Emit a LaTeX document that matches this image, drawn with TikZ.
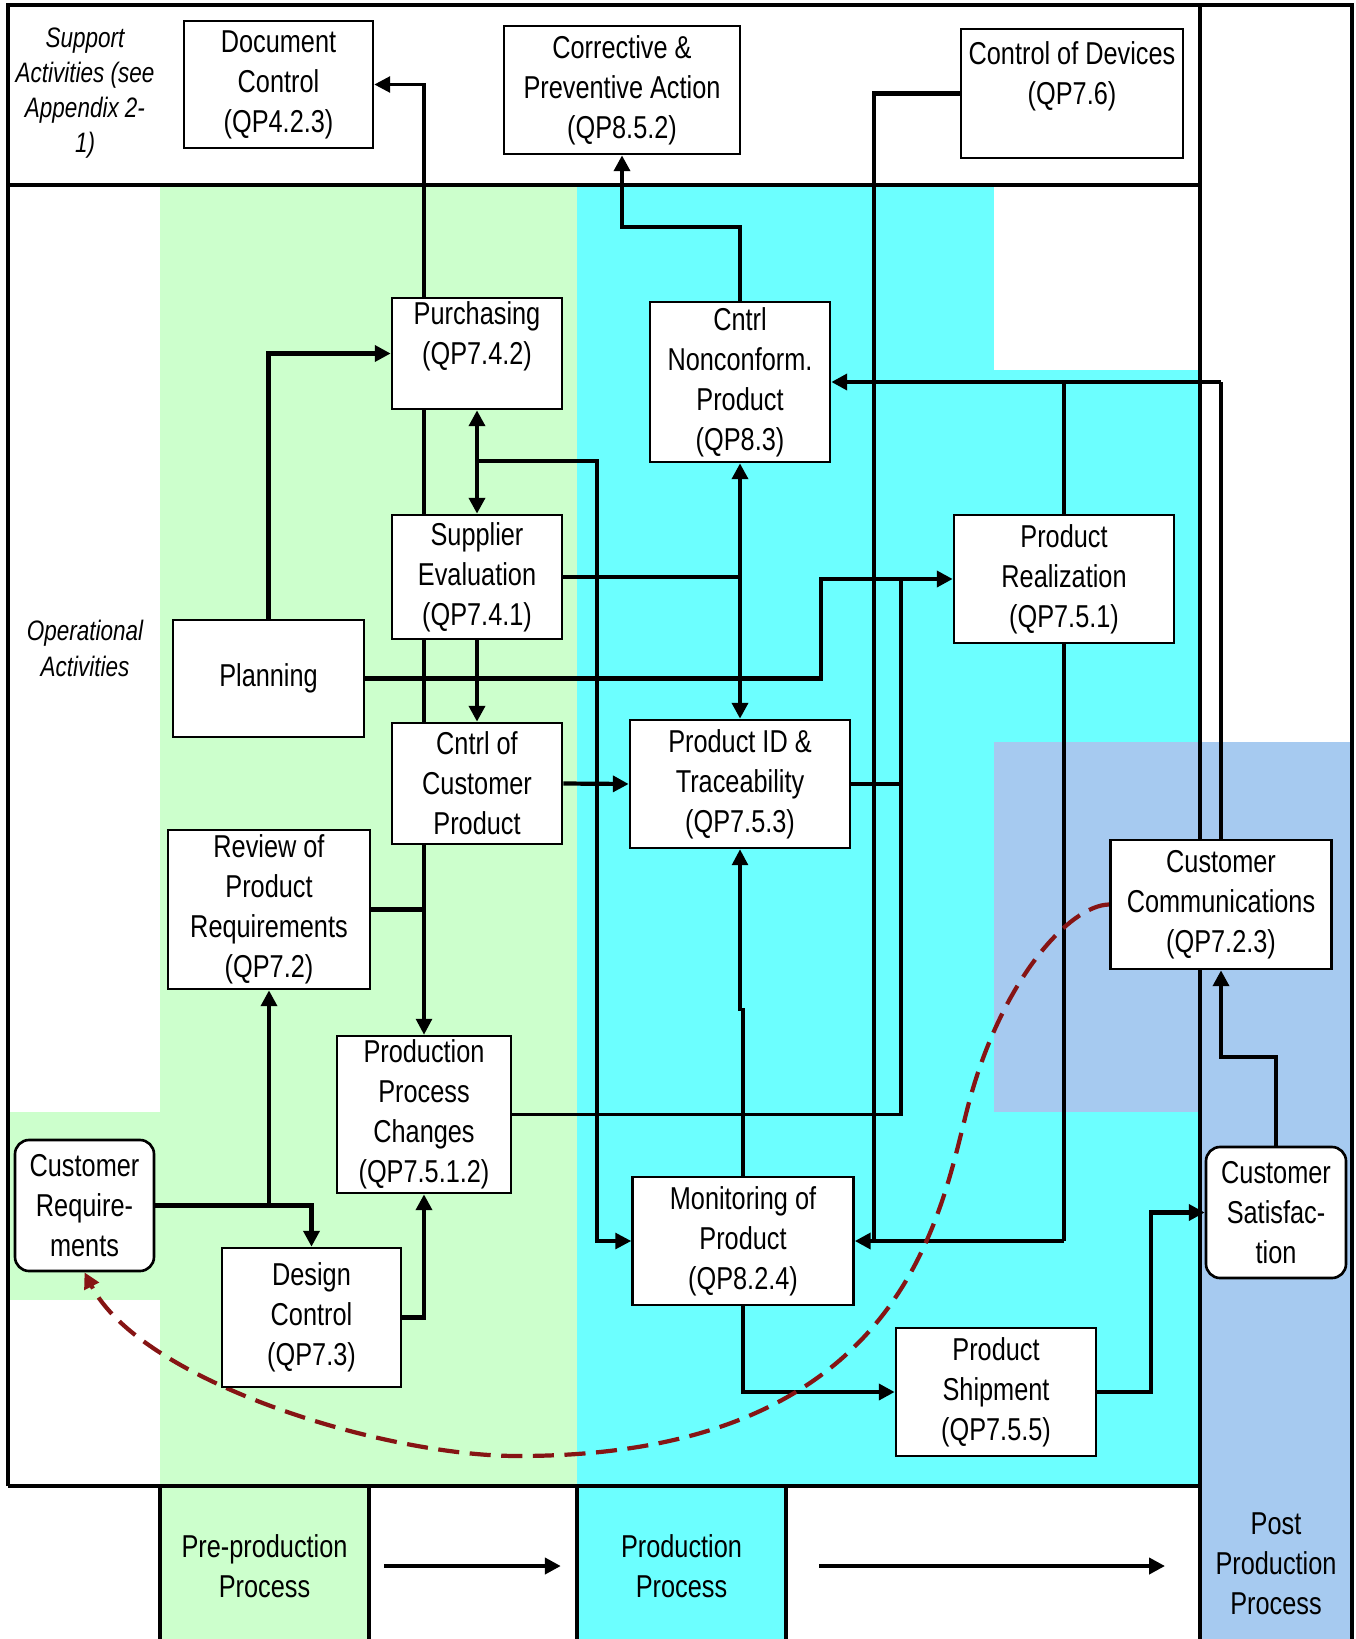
\documentclass[tikz,border=0pt]{standalone}
\usepackage{fontspec}
\setmainfont{Liberation Sans}[FakeStretch=0.8]
\usetikzlibrary{arrows.meta}
\definecolor{preprod}{HTML}{CCFFCC}
\definecolor{prod}{HTML}{6CFFFF}
\definecolor{postprod}{HTML}{A6CAF0}
\definecolor{loopred}{HTML}{861414}
\pgfdeclarelayer{back}
\pgfdeclarelayer{wires}
\pgfsetlayers{back,wires,main}

\begin{document}
\begin{tikzpicture}[x=0.2mm,y=-0.2mm]
      \tikzstyle{block}=[draw,fill=white,line width=1.5pt,align=center,inner sep=0pt,font=\fontsize{18}{22.8}\selectfont]
      \tikzstyle{rblock}=[block,rounded corners=8pt]
      \tikzstyle{side}=[align=center,font=\fontsize{16}{20}\selectfont\itshape]
      \tikzstyle{colbox}=[draw,line width=2.5pt,align=center,inner sep=0pt,font=\fontsize{18}{22.8}\selectfont]
      \tikzstyle{frame}=[line width=2.5pt]
      \tikzstyle{link}=[line width=2.4pt,>={Triangle[length=9pt,width=9pt]}]
      \tikzstyle{thinlink}=[link,line width=1.8pt]
      \tikzstyle{feedback}=[line width=2.4pt,loopred,dash pattern=on 12pt off 6pt,>={Triangle[length=9pt,width=9pt]}]
      \useasboundingbox (0,0) rectangle (1356,1639);
      % support activities
      \node[side] (suplab) at (85,93) {Support\\Activities (see\\Appendix 2-\\1)};
      \node[block,minimum width=37.8mm,minimum height=25.4mm] (doc) at (278.5,84.5) {Document\\Control\\(QP4.2.3)};
      \node[block,minimum width=47.2mm,minimum height=25.6mm] (cpa) at (622,90) {Corrective \&\\Preventive Action\\(QP8.5.2)};
      \node[block,minimum width=44.4mm,minimum height=25.8mm] (dev) at (1072,93.5) {Control of Devices\\(QP7.6)\\~};
      % operational activities
      \node[side] (oplab) at (85,648.5) {Operational\\Activities};
      \node[block,minimum width=34mm,minimum height=22.2mm] (pur) at (477,353.5) {Purchasing\\(QP7.4.2)\\~};
      \node[block,minimum width=36mm,minimum height=32mm] (ncp) at (740,382) {Cntrl\\Nonconform.\\Product\\(QP8.3)};
      \node[block,minimum width=34mm,minimum height=24.8mm] (sup) at (477,577) {Supplier\\Evaluation\\(QP7.4.1)};
      \node[block,minimum width=38.2mm,minimum height=23.4mm] (plan) at (268.5,678.5) {Planning};
      \node[block,minimum width=34mm,minimum height=24.2mm] (ccp) at (477,783.5) {Cntrl of\\Customer\\Product};
      \node[block,minimum width=44mm,minimum height=25.6mm] (real) at (1064,579) {Product\\Realization\\(QP7.5.1)};
      \node[block,minimum width=44mm,minimum height=25.6mm] (pid) at (740,784) {Product ID \&\\Traceability\\(QP7.5.3)};
      \node[block,minimum width=40.4mm,minimum height=31.8mm] (rev) at (269,909.5) {Review of\\Product\\Requirements\\(QP7.2)};
      \node[block,minimum width=44.2mm,minimum height=25.8mm] (comm) at (1221,904.5) {Customer\\Communications\\(QP7.2.3)};
      \node[block,minimum width=34.8mm,minimum height=31.4mm] (ppc) at (424,1114.5) {Production\\Process\\Changes\\(QP7.5.1.2)};
      \node[rblock,minimum width=27.8mm,minimum height=26.2mm] (creq) at (84.5,1205.5) {Customer\\Require-\\ments};
      \node[block,minimum width=35.8mm,minimum height=27.8mm] (dc) at (311.5,1317.5) {Design\\Control\\(QP7.3)};
      \node[block,minimum width=44.2mm,minimum height=25.6mm] (mon) at (743,1241) {Monitoring of\\Product\\(QP8.2.4)};
      \node[rblock,minimum width=28mm,minimum height=26.2mm] (csat) at (1276,1212.5) {Customer\\Satisfac-\\tion};
      \node[block,minimum width=40mm,minimum height=25.6mm] (ship) at (996,1392) {Product\\Shipment\\(QP7.5.5)};
      % process columns
      \node[colbox,fill=preprod,minimum width=41.8mm,minimum height=32mm] (prebox) at (264.5,1566) {Pre-production\\Process};
      \node[colbox,fill=prod,minimum width=41.8mm,minimum height=32mm] (prodbox) at (681.5,1566) {Production\\Process};
      \node[align=center,font=\fontsize{18}{22.8}\selectfont] (postlab) at (1276,1564) {Post\\Production\\Process};
      \coordinate (colleft) at (1200,1566);
      \begin{pgfonlayer}{back}
        \fill[preprod] (160,185) rectangle (577,1486);
        \fill[preprod] (8,1112) rectangle (160,1300);
        \fill[prod] (577,185) rectangle (1200,1486);
        \fill[white] (994,185) rectangle (1200,370);
        \fill[postprod] (994,742) rectangle (1200,1112);
        \fill[postprod] (1200,742) rectangle (1352,1650);
        \draw[frame] (8,1486) -- (8,5) -- (1352,5) -- (1352,1650);
        \draw[frame] (1200,5) -- (1200,1650);
        \draw[frame] (8,185) -- (1200,185);
        \draw[frame] (8,1486) -- (1200,1486);
      \end{pgfonlayer}
      \begin{pgfonlayer}{wires}
        \coordinate (j1) at (rev.east -| ppc.north);
        \coordinate (j2) at (477,461);
        \coordinate (k1) at (821,579);
        \coordinate (k2) at (901,579);
        \coordinate (k3) at (874,1241);
        \draw[link] (rev.east) -- (j1);
        \draw[thinlink,->] (j1) -- (ppc.north);
        \draw[thinlink,->] (j1) |- (doc.east);
        \draw[link,->] (plan.north) |- (pur.west);
        \draw[link,<->] (pur.south) -- (sup.north);
        \draw[thinlink,->] (j2) -- (597,461) |- (mon.west);
        \draw[link,->] (sup.south) -- (ccp.north);
        \draw[link] (sup.east) -- (sup.east -| ncp.south);
        \draw[link,<->] (ncp.south) -- (pid.north);
        \draw[link,->] (ccp.east) -- (pid.west);
        \draw[link,->] (plan.east) -| (k1) -- (real.west);
        \draw[link] (pid.east) -| (k2);
        \draw[thinlink] (ppc.east) -| (k2);
        \draw[link] (dev.west) -| (k3);
        \draw[thinlink] (real.south) -- (real.south |- mon.east);
        \draw[link,->] (real.south |- mon.east) -- (mon.east);
        \draw[thinlink] (comm.north) -- (comm.north |- ncp.east);
        \draw[link,->] (comm.north |- ncp.east) -- (ncp.east);
        \draw[link] (real.north) -- (real.north |- ncp.east);
        \draw[link,->] (ncp.north) -- ++(0,-74) -| (cpa.south);
        \draw[link,->] (creq.east) -| (dc.north);
        \draw[link,->] (creq.east -| rev.south) -- (rev.south);
        \draw[link,->] (dc.east) -| (ppc.south);
        \draw[thinlink,->] (mon.north) -- ++(0,-166) -| (pid.south);
        \draw[link,->] (mon.south) |- (ship.west);
        \draw[link,->] (ship.east) -- ++(54,0) |- (csat.west);
        \draw[link,->] (csat.north) -- ++(0,-89) -| (comm.south);
        \draw[link,->,shorten <=2.6mm,shorten >=2.8mm] (prebox.east) -- (prodbox.west);
        \draw[link,->,shorten <=6.2mm,shorten >=7mm] (prodbox.east) -- (colleft);
        \draw[feedback,->] (comm.west) .. controls (1070,905) and (1000,980) .. (967,1110) .. controls (939,1220) and (900,1456) .. (518,1456) .. controls (380,1456) and (140,1380) .. (creq.south);
      \end{pgfonlayer}
    \end{tikzpicture}
\end{document}
